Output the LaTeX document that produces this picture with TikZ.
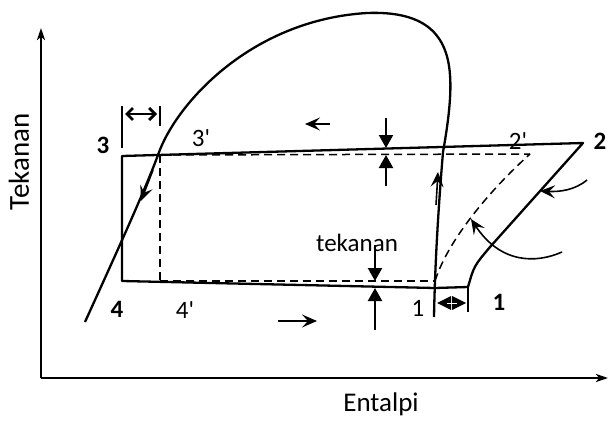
\documentclass[tikz,border=0pt]{standalone}
\usepackage{fontspec}
\setmainfont{Carlito}
\usetikzlibrary{arrows.meta}
\tikzset{
  curve/.style={line width=2.3pt, line join=round},
  dashline/.style={line width=1.5pt, dash pattern=on 8pt off 5pt},
  axis/.style={line width=2.2pt, -{Stealth[length=12pt,width=8pt,inset=3pt]}},
  flow/.style={line width=1.6pt, -{Stealth[length=15pt,width=13pt,inset=6pt]}},
  press/.style={line width=2.2pt, -{Triangle[length=13pt,width=14pt]}},
  lbl/.style={font=\fontsize{25}{28}\selectfont, inner sep=0pt},
  blbl/.style={font=\fontsize{25}{28}\selectfont\bfseries, inner sep=0pt},
  axlbl/.style={font=\fontsize{27}{30}\selectfont, inner sep=0pt}
}
\newcommand{\pr}{\textquotesingle}
\begin{document}
\begin{tikzpicture}[x=1pt,y=-1pt]
\useasboundingbox (0,0) rectangle (609,425);
% axes
\coordinate (O) at (41,378);
\coordinate (ytop) at (41,28);
\coordinate (xend) at (608,378);
\draw[axis] (O) -- (ytop);
\draw[axis] (O) -- (xend);
\node[axlbl, rotate=90, font=\fontsize{29}{31}\selectfont] (ylab) at (19,162) {Tekanan};
\node[axlbl] (xlab) at (381,404) {Entalpi};
% saturation dome
\coordinate (s0) at (85,322);
\coordinate (s1) at (158,155);
\coordinate (s2) at (367,13);
\coordinate (s3) at (450,75);
\coordinate (s4) at (443,152);
\coordinate (s5) at (434,317);
\draw[curve] (s0) .. controls (120,245) and (145,190) .. (s1)
  .. controls (175,105) and (250,20) .. (s2)
  .. controls (420,11) and (447,30) .. (s3)
  .. controls (452,100) and (446,135) .. (s4)
  .. controls (439,200) and (435,260) .. (s5);
% cycle
\coordinate (c3) at (122,156);
\coordinate (c4) at (122,281);
\coordinate (c1a) at (435,288);
\coordinate (c1b) at (468,287);
\coordinate (c1m) at (490,247);
\coordinate (c2) at (583,143);
\draw[curve] (c4) -- (c1a) -- (c1b) .. controls (474,266) .. (c1m) -- (c2) -- (c3) -- cycle;
\draw[curve] (c1b) -- (468,312);
% dashed ideal cycle
\coordinate (d3) at (160,155);
\coordinate (d2) at (530,154);
\coordinate (d4) at (160,281);
\coordinate (d1) at (435,281);
\draw[dashline] (d3) -- (d2);
\draw[dashline] (d3) -- (d4);
\draw[dashline] (d4) -- (d1);
\draw[dashline] (d1) .. controls (448,240) and (490,190) .. (d2);
% flow arrows on dome and lines
\draw[flow] (153,170) -- (141,201);
\draw[flow] (436,205) -- (438,172);
\draw[flow] (330,124) -- (305,124);
\draw[flow] (278,321) -- (317,321);
\draw[flow] (587,180) .. controls (575,190) and (560,192) .. (540,191);
\draw[flow] (562,252) .. controls (535,264) and (500,263) .. (471,219);
% pressure drop arrows
\draw[press] (386,118) -- (386,148);
\draw[press] (386,186) -- (386,155);
\draw[press] (375,245) -- (375,281);
\draw[press] (375,330) -- (375,288);
% subcooling marker
\draw[line width=1.6pt] (122,106) -- (122,148);
\draw[line width=1.6pt] (160,106) -- (160,126);
\draw[line width=2.8pt, {Straight Barb[length=6pt,width=12pt]}-{Straight Barb[length=6pt,width=12pt]}] (125,114) -- (157,114);
% superheat marker
\fill (437,303) -- (451,296) -- (451,310) -- cycle;
\fill (466,303) -- (452,296) -- (452,310) -- cycle;
\draw[white, line width=1pt] (447,303) -- (457,303);
% labels
\node[blbl] (l3) at (103,145) {3};
\node[lbl] (l3p) at (201,138) {3\pr};
\node[lbl] (l2p) at (518,141) {2\pr};
\node[blbl] (l2) at (600,141) {2};
\node[blbl] (l4) at (117,309) {4};
\node[lbl] (l4p) at (185,310) {4\pr};
\node[lbl] (l1) at (418,308) {1};
\node[blbl] (l1b) at (499,302) {1};
\node[lbl] (tek) at (357,243) {tekanan};
\end{tikzpicture}
\end{document}
